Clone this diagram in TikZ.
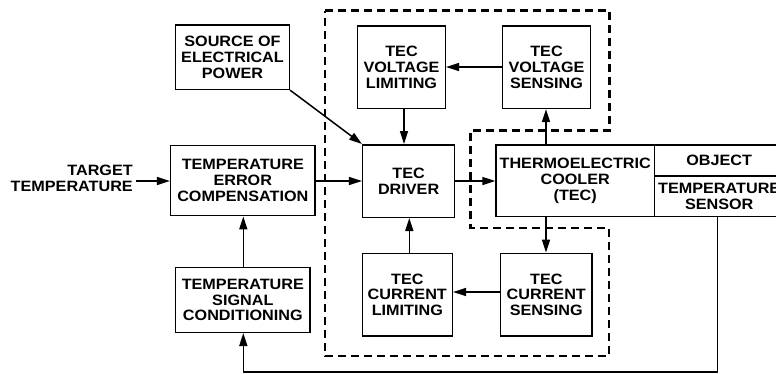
\documentclass[tikz,border=0pt]{standalone}
\usepackage{fontspec}
\setmainfont{Liberation Sans}[FakeStretch=1.08]
\usetikzlibrary{arrows.meta}
\begin{document}
\begin{tikzpicture}[x=1pt,y=-1pt,
  every node/.style={font=\bfseries\fontsize{15}{15.8}\selectfont, align=center, inner sep=0pt},
  blk/.style={draw, line width=1.5pt},
  arr/.style={line width=1.5pt, -{Triangle[length=13pt,width=8pt]}},
  dsh/.style={line width=2.4pt, dash pattern=on 8pt off 5pt}]
\useasboundingbox (0,0) rectangle (776,373);
% blocks
\node[blk, minimum width=113.6pt, minimum height=64.3pt] (src) at (232.5,57.2) {SOURCE OF\\ELECTRICAL\\POWER};
\node[blk, minimum width=87.6pt, minimum height=82.3pt] (vlim) at (401.5,67.2) {TEC\\VOLTAGE\\LIMITING};
\node[blk, minimum width=88.4pt, minimum height=82.3pt] (vsen) at (546.5,67.2) {TEC\\VOLTAGE\\SENSING};
\node[blk, minimum width=91.8pt, minimum height=72.5pt] (drv) at (408.6,181) {TEC\\DRIVER};
\node[blk, minimum width=158.3pt, minimum height=71.5pt] (tec) at (575.2,180.7) {THERMOELECTRIC\\COOLER\\(TEC)};
\node[blk, minimum width=129.7pt, minimum height=31pt] (obj) at (719.2,160.5) {OBJECT};
\node[blk, minimum width=129.7pt, minimum height=40.5pt] (sens) at (719.2,196.25) {TEMPERATURE\\SENSOR};
\node[blk, minimum width=144.3pt, minimum height=70.4pt] (err) at (242.8,180.5) {TEMPERATURE\\ERROR\\COMPENSATION};
\node[blk, minimum width=134.3pt, minimum height=64.6pt] (sig) at (242.8,300) {TEMPERATURE\\SIGNAL\\CONDITIONING};
\node[blk, minimum width=90pt, minimum height=82.7pt] (clim) at (407.3,294.7) {TEC\\CURRENT\\LIMITING};
\node[blk, minimum width=91.3pt, minimum height=82.7pt] (csen) at (546.3,294.7) {TEC\\CURRENT\\SENSING};
\node[anchor=east, align=right] (tgt) at (133,178) {TARGET\\TEMPERATURE};
% dashed enclosure
\draw[dsh] (325,10.5) -- (609.3,10.5) -- (609.3,130.5) -- (470.5,130.5) -- (470.5,228) -- (608.7,228) -- (608.7,356) -- (325,356) -- cycle;
% helper coordinates
\coordinate (xa) at (404,0);
\coordinate (xb) at (409.3,0);
\coordinate (xc) at (546,0);
\coordinate (xd) at (243.3,0);
\coordinate (xe) at (717.7,0);
\coordinate (ya) at (0,181);
\coordinate (yb) at (0,292);
\coordinate (yc) at (0,67);
\coordinate (bot) at (0,372);
% connectors
\draw[arr] (tgt.east |- ya) ++(3,0) -- (err.west |- ya);
\draw[arr] (err.east |- ya) -- (drv.west |- ya);
\draw[arr] (drv.east |- ya) -- (tec.west |- ya);
\draw[arr] (src.south east) -- (drv.north west);
\draw[arr] (vsen.west |- yc) -- (vlim.east |- yc);
\draw[arr] (vlim.south -| xa) -- (drv.north -| xa);
\draw[arr] (tec.north -| xc) -- (vsen.south -| xc);
\draw[arr] (tec.south -| xc) -- (csen.north -| xc);
\draw[arr] (csen.west |- yb) -- (clim.east |- yb);
\draw[arr] (clim.north -| xb) -- (drv.south -| xb);
\draw[arr] (sig.north -| xd) -- (err.south -| xd);
\draw[arr] (sens.south -| xe) -- (xe |- bot) -- (xd |- bot) -- (sig.south -| xd);
\end{tikzpicture}
\end{document}
